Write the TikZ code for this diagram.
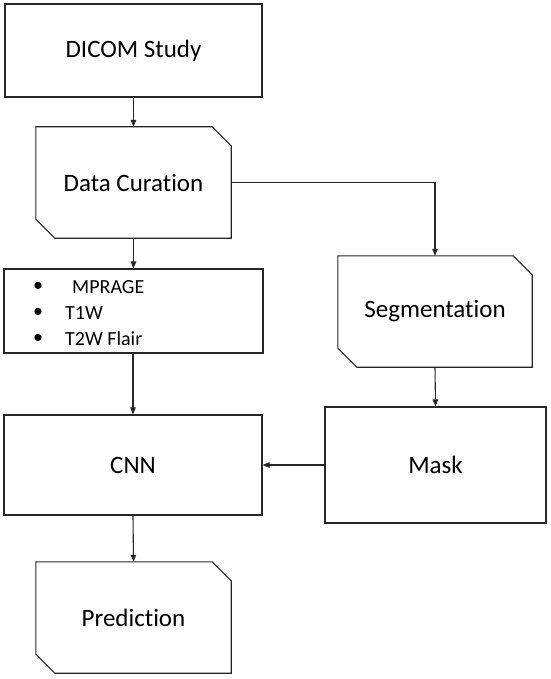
\documentclass[tikz,border=0pt]{standalone}
\usepackage{fontspec}
\setmainfont{Carlito}[Ligatures=CommonOff]
\usetikzlibrary{arrows.meta,calc}
\begin{document}
\begin{tikzpicture}[x=1pt,y=-1pt,
  line/.style={line width=1.1pt,draw=black!85},
  boxr/.style={line,draw,rectangle,inner sep=0pt,font=\fontsize{25}{30}\selectfont},
  boxc/.style={rectangle,inner sep=0pt,font=\fontsize{25}{30}\selectfont},
  item/.style={inner sep=0pt,anchor=west,font=\fontsize{20}{24}\selectfont},
  conn/.style={line,-{Triangle[length=7pt,width=5.5pt]}}]
\useasboundingbox (0,0) rectangle (550,679);
% nodes
\node[boxr,minimum width=257pt,minimum height=93pt] (dicom) at (133.5,50.5) {DICOM Study};
\node[boxc,minimum width=195pt,minimum height=111pt] (cur) at (133.5,182.5) {Data Curation};
\node[boxr,minimum width=259pt,minimum height=84pt] (list) at (133.5,311) {};
\node[boxc,minimum width=194pt,minimum height=111pt] (seg) at (435,311.5) {Segmentation};
\node[boxr,minimum width=258pt,minimum height=100pt] (cnn) at (133,465) {CNN};
\node[boxr,minimum width=221pt,minimum height=116pt] (mask) at (435.5,465) {Mask};
\node[boxc,minimum width=195pt,minimum height=111pt] (pred) at (133.5,617.5) {Prediction};
% chamfered outlines
\foreach \n in {cur,seg,pred}{
  \draw[line] (\n.north west) -- ([xshift=-19pt]\n.north east) -- ([yshift=-19pt]\n.north east)
    -- (\n.south east) -- ([xshift=19pt]\n.south west) -- ([yshift=19pt]\n.south west) -- cycle;
}
% list items
\node[item] (b1) at (33,287) {•};
\node[item] (b2) at (33,313) {•};
\node[item] (b3) at (33,339) {•};
\node[item] (t1) at (72,287) {MPRAGE};
\node[item] (t2) at (65,313) {T1W};
\node[item] (t3) at (65,339) {T2W Flair};
% connectors
\coordinate (turn) at (seg.north |- cur.east);
\draw[conn] (dicom.south) -- (cur.north);
\draw[conn] (cur.south) -- (list.north);
\draw[conn] (list.south -| cnn.north) -- (cnn.north);
\draw[conn] (cnn.south) -- (pred.north);
\draw[conn] (cur.east) -- (turn) -- (seg.north);
\draw[conn] (seg.south) -- (mask.north);
\draw[conn] (mask.west) -- (cnn.east);
\end{tikzpicture}
\end{document}
